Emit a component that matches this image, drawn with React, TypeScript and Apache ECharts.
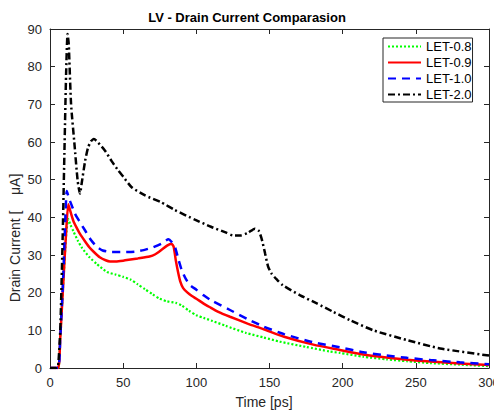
import React, { useEffect, useRef } from "react";
import * as echarts from "echarts";

const FONT = "'Liberation Sans', Arial, Helvetica, sans-serif";

const seriesNames = ["LET-0.8", "LET-0.9", "LET-1.0", "LET-2.0"];

const time08 = [0, 5.5, 7, 9, 11, 12.5, 14, 16, 19, 22, 27, 32, 39, 45, 50, 55, 60, 65, 70, 75, 80, 86, 90, 95, 100, 105, 111, 120, 134, 146, 157, 175, 191, 198, 214, 230, 244, 260, 280, 300];
const cur08 = [0, 0, 8, 22, 35, 39.5, 38, 36.3, 33.8, 31.8, 29.4, 27.6, 25.5, 24.8, 24.2, 23.5, 22.2, 20.9, 19.6, 18.4, 17.7, 17.3, 16.6, 15.2, 14, 13.3, 12.5, 11.2, 9.3, 8.1, 7.0, 5.6, 4.4, 4.0, 3.0, 2.3, 1.8, 1.3, 0.9, 0.5];

const time09 = [0, 5.5, 7, 9, 11, 12.5, 14, 16, 18, 20.5, 24, 27, 30, 34, 38, 41, 45, 50, 55, 60, 68, 72, 76, 80, 83, 84.5, 86, 87.5, 89, 91, 94, 97, 100, 105, 109, 115, 123, 135, 146, 160, 180, 198, 214, 230, 244, 260, 280, 300];
const cur09 = [0, 0, 8, 22, 36, 43.5, 41.5, 39, 37.4, 35.6, 33.6, 32, 30.8, 29.4, 28.6, 28.3, 28.3, 28.5, 28.8, 29.1, 29.6, 30.2, 31.3, 32.5, 33, 32.2, 28.5, 25.5, 23, 21.2, 20, 19.1, 18.4, 17.1, 16.2, 14.9, 13.6, 11.8, 10.3, 8.3, 6.2, 4.8, 3.6, 2.8, 2.2, 1.7, 1.2, 0.8];

const time10 = [0, 5.5, 7, 9, 10.5, 11.5, 13, 14.5, 17, 20, 24, 28, 32, 36, 42, 50, 58, 64, 70, 76, 81, 83, 85.5, 88, 90, 93, 96, 100, 105, 110, 123, 135, 146, 160, 180, 198, 214, 230, 244, 260, 280, 300];
const cur10 = [0, 0, 8, 24, 40, 47, 45, 43.5, 41, 39, 36.5, 34, 32.2, 31.2, 30.8, 30.8, 30.9, 31.3, 32, 33, 34.2, 33.5, 32, 28.5, 26, 23.5, 21.9, 20.8, 19.3, 18, 15.4, 13, 11, 9, 6.8, 5.5, 4.2, 3.3, 2.7, 2.1, 1.5, 1.0];

const time20 = [0, 4, 5.5, 7, 8.5, 10, 11, 12, 12.8, 14.4, 16.6, 18.9, 20.5, 21.6, 24, 26, 28, 30, 33, 37.6, 42, 46.7, 50, 55.8, 65, 76, 85, 99, 110, 120, 125, 130, 135, 140, 142.5, 144.5, 147, 149, 151.5, 155, 159, 171, 182, 193.6, 205, 221, 244, 266.6, 300];
const cur20 = [0, 0, 0.5, 10, 32, 60, 78, 88.7, 86, 70, 60, 49.7, 46.3, 48.9, 55, 58.5, 60.2, 60.8, 59.8, 57.7, 55, 52.4, 50.8, 48, 45.8, 44, 42, 39.4, 37.5, 36, 35.2, 35.2, 35.8, 37, 36.5, 34.5, 30.4, 27, 25, 23.5, 22, 19.3, 17.2, 14.9, 12.7, 10, 7.4, 5.2, 3.3];

const xTicks = { min: 0, max: 300, interval: 50 };
const yTicks = { min: 0, max: 90, interval: 10 };

const pair = (t: number[], v: number[]) => t.map((x, i) => [x, v[i]]);

export default function App() {
  const ref = useRef<HTMLDivElement>(null);
  useEffect(() => {
    if (!ref.current) return;
    const chart = echarts.init(ref.current, null, { renderer: "svg" });
    const axisColor = "#262626";
    const baseX = {
      type: "value" as const,
      ...xTicks,
      splitLine: { show: false },
      axisLine: { show: true, onZero: false, lineStyle: { color: axisColor, width: 1 } },
      axisTick: { show: true, inside: true, length: 5, lineStyle: { color: axisColor } },
    };
    const baseY = {
      type: "value" as const,
      ...yTicks,
      splitLine: { show: false },
      axisLine: { show: true, onZero: false, lineStyle: { color: axisColor, width: 1 } },
      axisTick: { show: true, inside: true, length: 5, lineStyle: { color: axisColor } },
    };
    const styles = [
      { color: "#00ff00", type: [2, 2], width: 2.2 },
      { color: "#ff0000", type: "solid", width: 2.5 },
      { color: "#0000ff", type: [8, 6], width: 2.5 },
      { color: "#000000", type: [7, 3, 2, 3], width: 2.5 },
    ];
    const datas = [pair(time08, cur08), pair(time09, cur09), pair(time10, cur10), pair(time20, cur20)];
    chart.setOption({
      animation: false,
      backgroundColor: "#ffffff",
      title: {
        text: "LV - Drain Current Comparasion",
        left: "center",
        top: 6,
        textStyle: { fontFamily: FONT, fontSize: 13, fontWeight: "bold", color: "#000" },
      },
      grid: { left: 50, right: 5, top: 29, bottom: 43, containLabel: false, outerBoundsMode: "none" },
      xAxis: [
        {
          ...baseX,
          position: "bottom",
          axisLabel: { show: true, margin: 8, fontFamily: FONT, fontSize: 13, color: axisColor },
        },
        { ...baseX, position: "top", axisLabel: { show: false } },
      ],
      yAxis: [
        {
          ...baseY,
          position: "left",
          axisLabel: { show: true, margin: 8, fontFamily: FONT, fontSize: 13, color: axisColor },
        },
        { ...baseY, position: "right", axisLabel: { show: false } },
      ],
      legend: {
        orient: "vertical",
        left: 383,
        top: 38,
        itemWidth: 33,
        itemHeight: 14,
        itemGap: 3,
        padding: [2, 1, 1, 4],
        borderColor: axisColor,
        borderWidth: 1,
        backgroundColor: "#ffffff",
        itemStyle: { opacity: 0, borderWidth: 0 },
        textStyle: { fontFamily: FONT, fontSize: 13, color: "#000" },
        data: seriesNames,
      },
      graphic: [
        {
          type: "text",
          x: 15,
          y: 238,
          rotation: Math.PI / 2,
          style: {
            text: "Drain Current [    μA]",
            fontFamily: FONT,
            fontSize: 14,
            fill: "#262626",
            align: "center",
            verticalAlign: "middle",
          },
        },
        {
          type: "text",
          x: 264,
          y: 402,
          style: {
            text: "Time [ps]",
            fontFamily: FONT,
            fontSize: 14,
            fill: "#262626",
            align: "center",
            verticalAlign: "middle",
          },
        },
      ],
      series: seriesNames.map((name, i) => ({
        name,
        type: "line",
        xAxisIndex: 0,
        yAxisIndex: 0,
        data: datas[i],
        symbol: "none",
        showSymbol: false,
        smooth: 0.2,
        clip: true,
        color: styles[i].color,
        lineStyle: { color: styles[i].color, width: styles[i].width, type: styles[i].type, cap: "butt" },
        itemStyle: { color: styles[i].color },
      })),
    });
    return () => chart.dispose();
  }, []);
  return <div ref={ref} style={{ width: 494, height: 411, position: "absolute", left: 0, top: 0 }} />;
}
